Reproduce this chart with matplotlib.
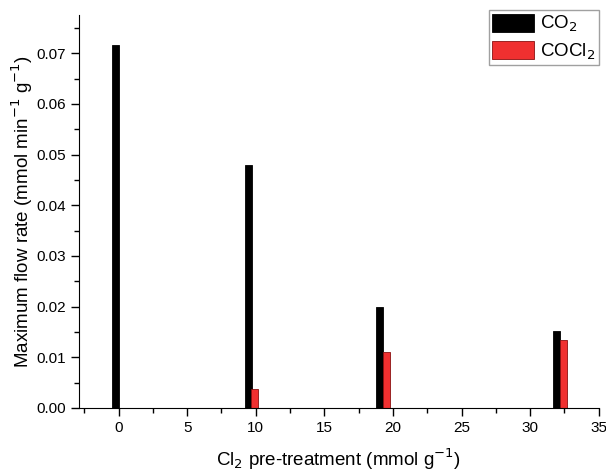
import numpy as np
import matplotlib
matplotlib.use('Agg')
import matplotlib.pyplot as plt
from matplotlib.ticker import MultipleLocator

plt.rcParams['font.family'] = ['Liberation Sans', 'DejaVu Sans']

# data
co2_x = [-0.2, 9.45, 19.05, 31.93]
co2_y = [0.0717, 0.0480, 0.0200, 0.0152]
cocl2_x = [9.93, 19.55, 32.42]
cocl2_y = [0.0038, 0.0111, 0.0134]

fig = plt.figure(figsize=(6.06, 4.72), dpi=100, facecolor='white')
ax = fig.add_axes([0.130, 0.1356, 0.858, 0.832])

ax.bar(co2_x, co2_y, width=0.5, color='black', edgecolor='black', linewidth=0.6, label='CO$_2$')
ax.bar(cocl2_x, cocl2_y, width=0.5, color='#f03030', edgecolor='#8b1010', linewidth=0.6, label='COCl$_2$')

ax.set_xlim(-2.9, 35)
ax.set_ylim(0, 0.0775)
ax.xaxis.set_major_locator(MultipleLocator(5))
ax.xaxis.set_minor_locator(MultipleLocator(2.5))
ax.yaxis.set_major_locator(MultipleLocator(0.01))
ax.yaxis.set_minor_locator(MultipleLocator(0.005))
ax.yaxis.set_major_formatter(matplotlib.ticker.FormatStrFormatter('%.2f'))

for s in ['top', 'right']:
    ax.spines[s].set_visible(False)
ax.tick_params(which='major', direction='out', length=6, width=1, labelsize=11)
ax.tick_params(which='minor', direction='out', length=3.5, width=1)

ax.set_xlabel('Cl$_2$ pre-treatment (mmol g$^{-1}$)', fontsize=13.5, labelpad=8)
ax.set_ylabel('Maximum flow rate (mmol min$^{-1}$ g$^{-1}$)', fontsize=13.5, labelpad=1)

leg = ax.legend(loc='upper right', bbox_to_anchor=(599 / 606, 1 - 10 / 472),
                bbox_transform=fig.transFigure, fontsize=13.5, frameon=True, fancybox=False,
                edgecolor='#888888', handlelength=2.25, handleheight=1.1, borderpad=0.2,
                labelspacing=0.35, handletextpad=0.3, borderaxespad=0)
leg.get_frame().set_linewidth(1.0)

plt.savefig('out.png', dpi=100, facecolor='white')
